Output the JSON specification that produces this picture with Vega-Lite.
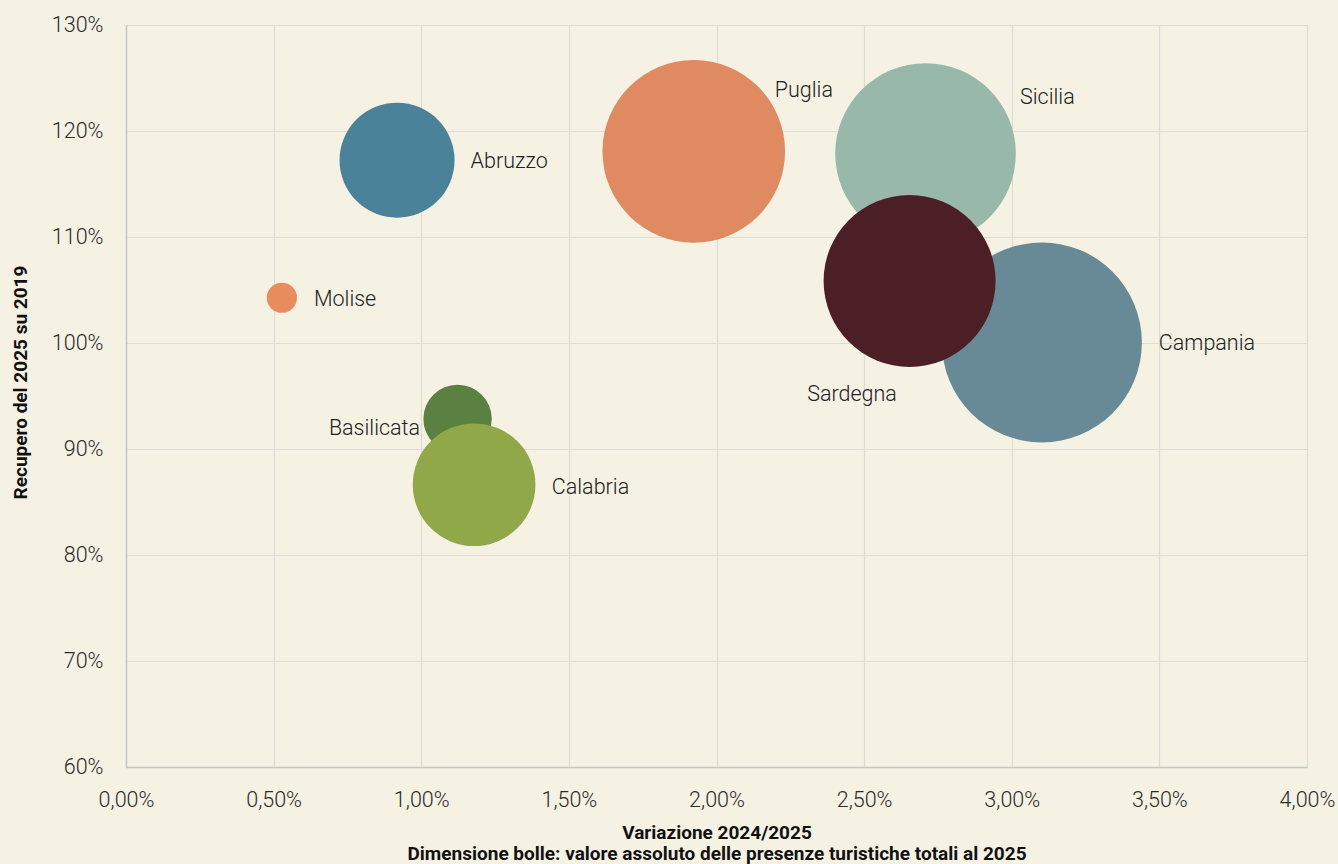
{
  "$schema": "https://vega.github.io/schema/vega-lite/v6.json",
  "width": 1181,
  "height": 742,
  "autosize": {"type": "none"},
  "padding": {"left": 126, "top": 25, "right": 31, "bottom": 97},
  "background": "#f5f1e3",
  "config": {
    "view": {"stroke": null},
    "font": "Roboto",
    "axis": {
      "grid": true,
      "gridColor": "#dddcd6",
      "gridWidth": 1.2,
      "domainColor": "#c6c6c2",
      "domainWidth": 1.5,
      "ticks": false,
      "labelFlush": false,
      "labelOverlap": false,
      "labelFont": "Roboto",
      "labelFontSize": 21.5,
      "labelFontWeight": 300,
      "labelColor": "#2b2b2b",
      "titleFont": "Roboto",
      "titleFontSize": 19,
      "titleFontWeight": "bold",
      "titleColor": "#111111"
    }
  },
  "data": {
    "values": [
      {"name": "Abruzzo", "var": 0.918, "rec": 117.25, "presenze": 7.27},
      {"name": "Molise", "var": 0.528, "rec": 104.27, "presenze": 0.5},
      {"name": "Basilicata", "var": 1.123, "rec": 92.84, "presenze": 2.57},
      {"name": "Calabria", "var": 1.179, "rec": 86.63, "presenze": 8.27},
      {"name": "Puglia", "var": 1.923, "rec": 118.08, "presenze": 18.34},
      {"name": "Sicilia", "var": 2.708, "rec": 117.87, "presenze": 17.94},
      {"name": "Campania", "var": 3.102, "rec": 100.05, "presenze": 22.0},
      {"name": "Sardegna", "var": 2.654, "rec": 105.85, "presenze": 16.27}
    ]
  },
  "encoding": {
    "x": {
      "field": "var",
      "type": "quantitative",
      "scale": {"domain": [0, 4], "nice": false, "zero": false},
      "axis": {
        "values": [0, 0.5, 1, 1.5, 2, 2.5, 3, 3.5, 4],
        "labelExpr": "replace(format(datum.value, '.2f'), '.', ',') + '%'",
        "labelPadding": 22,
        "title": ["Variazione 2024/2025", "Dimensione bolle: valore assoluto delle presenze turistiche totali al 2025"],
        "titleX": 590.5,
        "titleY": 71,
        "titleAlign": "center",
        "titleBaseline": "alphabetic",
        "titleLineHeight": 21.5
      }
    },
    "y": {
      "field": "rec",
      "type": "quantitative",
      "scale": {"domain": [60, 130], "nice": false, "zero": false},
      "axis": {
        "values": [60, 70, 80, 90, 100, 110, 120, 130],
        "labelExpr": "datum.value + '%'",
        "labelPadding": 23,
        "title": "Recupero del 2025 su 2019",
        "titleX": -106,
        "titleY": 357,
        "titleAngle": 270,
        "titleAlign": "center",
        "titleBaseline": "middle"
      }
    }
  },
  "layer": [
    {
      "mark": {"type": "point", "shape": "circle", "filled": true, "opacity": 1, "strokeWidth": 0},
      "encoding": {
        "size": {
          "field": "presenze",
          "type": "quantitative",
          "scale": {"type": "linear", "domain": [0, 22], "range": [0, 40000], "zero": true},
          "legend": null
        },
        "color": {
          "field": "name",
          "type": "nominal",
          "scale": {
            "domain": ["Abruzzo", "Molise", "Basilicata", "Calabria", "Puglia", "Sicilia", "Campania", "Sardegna"],
            "range": ["#4a8299", "#ea8d5e", "#5a8042", "#90a848", "#e08a62", "#98b8a9", "#688a97", "#4c1f26"]
          },
          "legend": null
        }
      }
    },
    {
      "transform": [{"filter": "datum.name === 'Abruzzo'"}],
      "mark": {"type": "text", "align": "left", "baseline": "middle", "dx": 73.5, "dy": 2, "fontSize": 21.5, "fontWeight": 300, "color": "#222222"},
      "encoding": {"text": {"field": "name"}}
    },
    {
      "transform": [{"filter": "datum.name === 'Molise'"}],
      "mark": {"type": "text", "align": "left", "baseline": "middle", "dx": 32, "dy": 2, "fontSize": 21.5, "fontWeight": 300, "color": "#222222"},
      "encoding": {"text": {"field": "name"}}
    },
    {
      "transform": [{"filter": "datum.name === 'Puglia'"}],
      "mark": {"type": "text", "align": "left", "baseline": "middle", "dx": 81, "dy": -60, "fontSize": 21.5, "fontWeight": 300, "color": "#222222"},
      "encoding": {"text": {"field": "name"}}
    },
    {
      "transform": [{"filter": "datum.name === 'Sicilia'"}],
      "mark": {"type": "text", "align": "left", "baseline": "middle", "dx": 94.5, "dy": -55.7, "fontSize": 21.5, "fontWeight": 300, "color": "#222222"},
      "encoding": {"text": {"field": "name"}}
    },
    {
      "transform": [{"filter": "datum.name === 'Campania'"}],
      "mark": {"type": "text", "align": "left", "baseline": "middle", "dx": 117, "dy": 2, "fontSize": 21.5, "fontWeight": 300, "color": "#222222"},
      "encoding": {"text": {"field": "name"}}
    },
    {
      "transform": [{"filter": "datum.name === 'Sardegna'"}],
      "mark": {"type": "text", "align": "right", "baseline": "middle", "dx": -12.7, "dy": 114, "fontSize": 21.5, "fontWeight": 300, "color": "#222222"},
      "encoding": {"text": {"field": "name"}}
    },
    {
      "transform": [{"filter": "datum.name === 'Basilicata'"}],
      "mark": {"type": "text", "align": "right", "baseline": "middle", "dx": -37.5, "dy": 10, "fontSize": 21.5, "fontWeight": 300, "color": "#222222"},
      "encoding": {"text": {"field": "name"}}
    },
    {
      "transform": [{"filter": "datum.name === 'Calabria'"}],
      "mark": {"type": "text", "align": "left", "baseline": "middle", "dx": 77.7, "dy": 3, "fontSize": 21.5, "fontWeight": 300, "color": "#222222"},
      "encoding": {"text": {"field": "name"}}
    }
  ]
}
